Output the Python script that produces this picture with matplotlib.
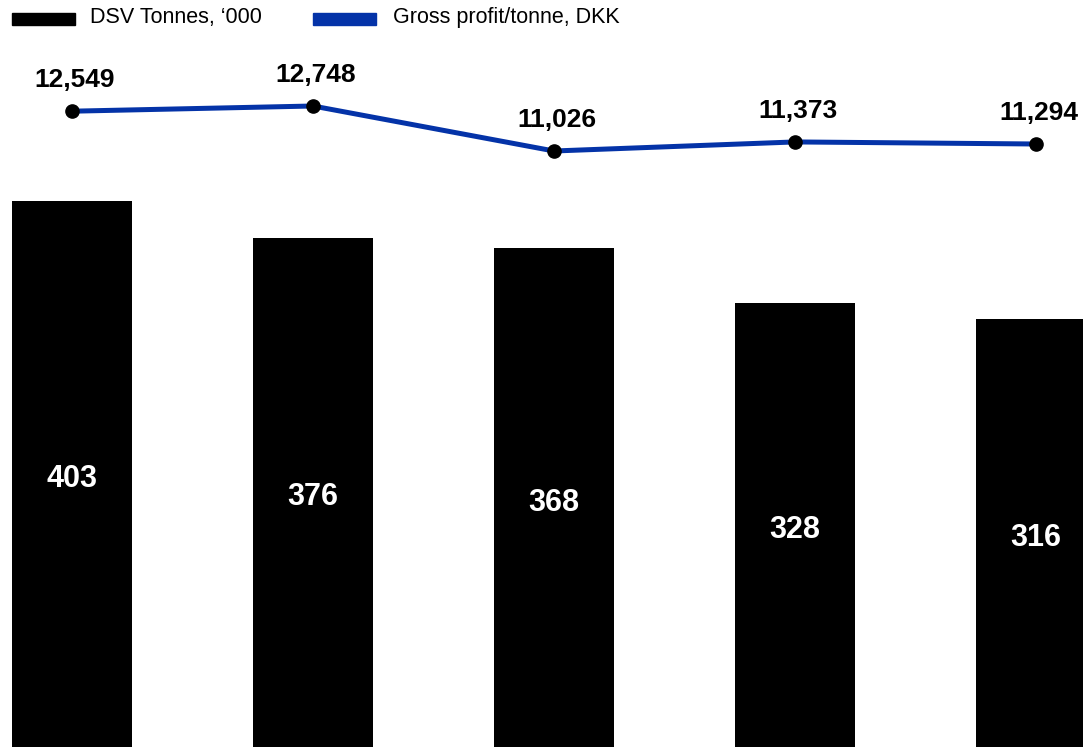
import matplotlib
matplotlib.use('Agg')
import matplotlib.pyplot as plt
from matplotlib.patches import Rectangle

plt.rcParams['font.family'] = ['Liberation Sans', 'DejaVu Sans']

# --- data ---
periods = ['P1', 'P2', 'P3', 'P4', 'P5']
tonnes = [403, 376, 368, 328, 316]
gp_per_tonne = [12549, 12748, 11026, 11373, 11294]
bar_labels = ['403', '376', '368', '328', '316']
line_labels = ['12,549', '12,748', '11,026', '11,373', '11,294']

BLUE = '#0433a8'
W, H = 1083, 747

fig = plt.figure(figsize=(W / 100, H / 100), dpi=100)
ax = fig.add_axes([0, 0, 1, 1])
x = list(range(len(periods)))

ax.bar(x, tonnes, width=0.498, color='black')
for xi, v, lab in zip(x, tonnes, bar_labels):
    ax.annotate(lab, (xi, v / 2), xytext=(0, -3.5), textcoords='offset points',
                ha='center', va='center', color='white',
                fontsize=22, fontweight='bold')

# pixel mapping: first center at 72px, spacing 241px
ax.set_xlim(-72 / 241, (W - 72) / 241)
ax.set_ylim(0, H / 1.355)
ax.axis('off')

ax2 = ax.twinx()
ax2.set_position([0, 0, 1, 1])
ax2.plot(x, gp_per_tonne, color=BLUE, linewidth=3.6, marker='o',
         markersize=9.5, markerfacecolor='black', markeredgecolor='black',
         zorder=3)
for xi, v, lab in zip(x, gp_per_tonne, line_labels):
    ax2.annotate(lab, (xi, v), xytext=(2, 22.5), textcoords='offset points',
                 ha='center', va='center', fontsize=19, fontweight='bold')

ppu = 45 / 1722.0  # px per unit
top = 12748 + 106 / ppu
bottom = 12748 - (H - 106) / ppu
ax2.set_ylim(bottom, top)
ax2.set_xlim(ax.get_xlim())
ax2.axis('off')

# --- legend ---
fig.patches.append(Rectangle((12 / W, 1 - 25 / H), 63 / W, 12 / H,
                             transform=fig.transFigure, color='black'))
fig.text(90 / W, 1 - 18 / H, "DSV Tonnes, \u2018000", fontsize=15.5,
         va='center', ha='left')
fig.patches.append(Rectangle((313 / W, 1 - 25 / H), 63 / W, 12 / H,
                             transform=fig.transFigure, color=BLUE))
fig.text(393 / W, 1 - 18 / H, "Gross profit/tonne, DKK", fontsize=15.5,
         va='center', ha='left')

fig.savefig('out.png', dpi=100)
